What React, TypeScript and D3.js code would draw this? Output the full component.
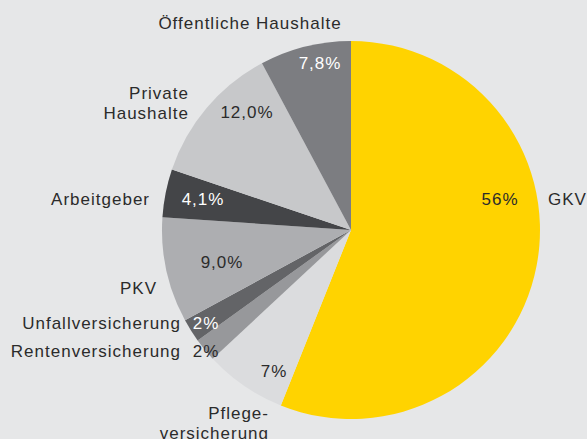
import React from "react";
import * as d3 from "d3";

const categories = [
  "GKV",
  "Pflegeversicherung",
  "Rentenversicherung",
  "Unfallversicherung",
  "PKV",
  "Arbeitgeber",
  "Private Haushalte",
  "Öffentliche Haushalte",
];
const values = [56, 7, 2, 2, 9, 4.1, 12, 7.8];
const valueLabels = ["56%", "7%", "2%", "2%", "9,0%", "4,1%", "12,0%", "7,8%"];
const nameLines = [
  ["GKV"],
  ["Pflege-", "versicherung"],
  ["Rentenversicherung"],
  ["Unfallversicherung"],
  ["PKV"],
  ["Arbeitgeber"],
  ["Private", "Haushalte"],
  ["Öffentliche Haushalte"],
];

const colors = ["#ffd300", "#dbdcde", "#97989b", "#636467", "#adaeb1", "#444548", "#c7c8ca", "#7c7d81"];
const valueTextColors = ["#2b2b2b", "#2b2b2b", "#2b2b2b", "#ffffff", "#2b2b2b", "#ffffff", "#2b2b2b", "#ffffff"];

// label layout (offsets from pie centre)
const valuePos: [number, number][] = [
  [149, -31], [-77, 141], [-145, 121], [-145, 93], [-129, 32], [-148, -31], [-104, -118], [-31, -167],
];
const namePos: [number, number, string][] = [
  [197, -31, "start"], [-82, 183, "end"], [-170, 121, "end"], [-170, 93, "end"],
  [-194, 58, "end"], [-201, -31, "end"], [-162, -137, "end"], [-101, -207, "middle"],
];

const W = 587, H = 439;
const cx = 351, cy = 230, R = 189;

export default function App() {
  const pie = d3.pie<number>().sort(null).value((d) => d)(values);
  const arc = d3.arc<d3.PieArcDatum<number>>().innerRadius(0).outerRadius(R);
  const font = "'Liberation Sans', Arial, Helvetica, sans-serif";
  return (
    <div style={{ position: "fixed", left: 0, top: 0 }}>
      <svg width={W} height={H} style={{ display: "block" }}>
        <rect width={W} height={H} fill="#e6e7e8" />
        <g transform={`translate(${cx},${cy})`}>
          {pie.map((d, i) => (
            <path key={categories[i]} d={arc(d) || ""} fill={colors[i]} />
          ))}
        </g>
        <g fontFamily={font} fontSize={17} letterSpacing={1} dominantBaseline="central">
          {pie.map((d, i) => (
            <text
              key={"v" + i}
              x={cx + valuePos[i][0]}
              y={cy + valuePos[i][1]}
              textAnchor="middle"
              fill={valueTextColors[i]}
            >
              {valueLabels[i]}
            </text>
          ))}
          {nameLines.map((lines, i) => (
            <text
              key={"n" + i}
              x={cx + namePos[i][0]}
              y={cy + namePos[i][1]}
              textAnchor={namePos[i][2] as any}
              fill="#2b2b2b"
            >
              {lines.map((l, j) => (
                <tspan key={j} x={cx + namePos[i][0]} dy={j === 0 ? 0 : 19.5}>
                  {l}
                </tspan>
              ))}
            </text>
          ))}
        </g>
      </svg>
    </div>
  );
}
